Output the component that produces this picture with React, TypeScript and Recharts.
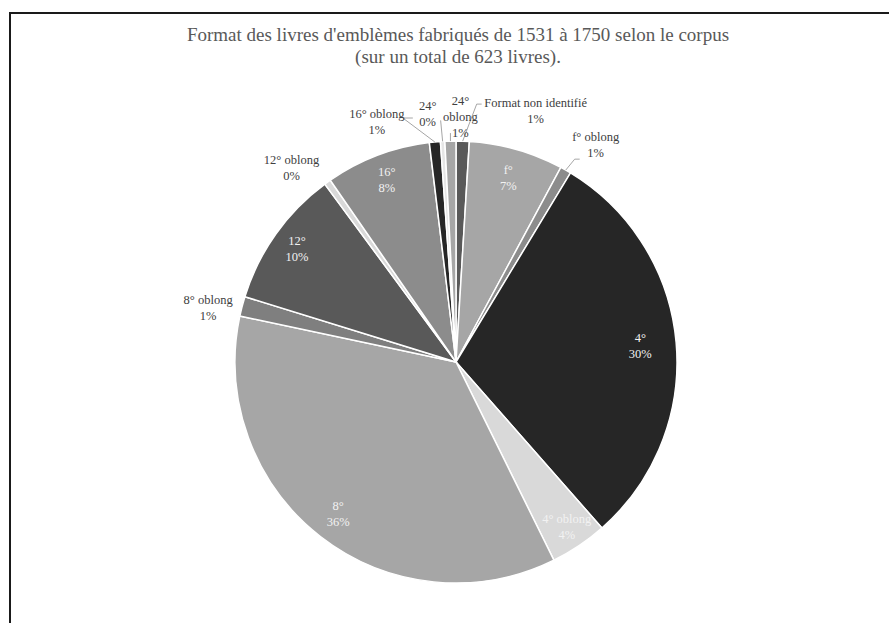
import { Cell, Pie, PieChart } from "recharts";

// Formats des livres d'emblèmes (623 livres), dans l'ordre horaire depuis midi
const formats = [
  "Format non identifié",
  "f°",
  "f° oblong",
  "4°",
  "4° oblong",
  "8°",
  "8° oblong",
  "12°",
  "12° oblong",
  "16°",
  "16° oblong",
  "24°",
  "24° oblong",
];
const counts = [6, 43, 5, 186, 26, 222, 9, 63, 3, 48, 5, 2, 5];
const fills = [
  "#595959", "#a6a6a6", "#8c8c8c", "#262626", "#d9d9d9", "#a6a6a6", "#7f7f7f",
  "#595959", "#d9d9d9", "#8c8c8c", "#262626", "#e6e6e6", "#a6a6a6",
];

type LabelStyle = {
  out?: boolean;
  r?: number;
  dx?: number;
  dy?: number;
  lines?: string[];
  lead?: number[][];
};

// label placement (styling only)
const labelStyles: LabelStyle[] = [
  { out: true, dx: 73, dy: -30, lead: [[-54, -7], [-59, -7]] },
  { r: 191 },
  { out: true, dx: 30, dy: -25, lead: [[-16, 14], [-21, 14]] },
  { r: 185 },
  { r: 199 },
  { r: 192 },
  { out: true, dx: -34, dy: 2 },
  { r: 195 },
  { out: true, dx: -36, dy: -14 },
  { r: 195 },
  { out: true, dx: -58, dy: -20, lead: [[36, -4], [26, -4]] },
  { out: true, dx: -15, dy: -27, lead: [[13, 6]] },
  { out: true, dx: 10, dy: -24, lines: ["24°", "oblong"], lead: [[-10, 16]] },
];

const data = formats.map((name, i) => ({ name, value: counts[i] }));

const RAD = Math.PI / 180;
const SERIF = "'Liberation Serif', 'Times New Roman', serif";

function renderLabel(props: any) {
  const { cx, cy, midAngle, outerRadius, percent, index, name } = props;
  const st = labelStyles[index];
  const pct = `${Math.round(percent * 100)}%`;
  const lines = [...(st.lines ?? [name]), pct];
  const lh = 16;
  const ox = cx + outerRadius * Math.cos(-midAngle * RAD);
  const oy = cy + outerRadius * Math.sin(-midAngle * RAD);
  let x: number;
  let y: number;
  if (st.out) {
    x = ox + (st.dx ?? 0);
    y = oy + (st.dy ?? 0);
  } else {
    const r = st.r ?? outerRadius * 0.85;
    x = cx + r * Math.cos(-midAngle * RAD);
    y = cy + r * Math.sin(-midAngle * RAD);
  }
  const y0 = y - ((lines.length - 1) * lh) / 2;
  return (
    <g key={`lbl-${index}`}>
      {st.lead && (
        <polyline
          points={[...st.lead.map(([a, b]) => `${x + a},${y + b}`), `${ox},${oy}`].join(" ")}
          fill="none"
          stroke="#a6a6a6"
          strokeWidth={1}
        />
      )}
      <text
        x={x}
        y={y0}
        textAnchor="middle"
        dominantBaseline="central"
        stroke="none"
        style={{ fontFamily: SERIF, fontSize: 12.5, fontWeight: 400 }}
        fill={st.out ? "#404040" : "#f2f2f2"}
      >
        {lines.map((t, k) => (
          <tspan key={k} x={x} dy={k === 0 ? 0 : lh}>
            {t}
          </tspan>
        ))}
      </text>
    </g>
  );
}

export default function App() {
  return (
    <div
      style={{
        position: "absolute",
        left: 0,
        top: 0,
        width: 889,
        height: 623,
        overflow: "hidden",
        background: "#fff",
      }}
    >
      <div
        style={{
          position: "absolute",
          left: 9,
          top: 12,
          width: 1000,
          height: 800,
          borderLeft: "2px solid #1a1a1a",
          borderTop: "2px solid #1a1a1a",
        }}
      />
      <div
        style={{
          position: "absolute",
          left: 0,
          top: 24,
          width: 916,
          textAlign: "center",
          fontFamily: SERIF,
          fontSize: 19,
          lineHeight: "22px",
          color: "#595959",
        }}
      >
        Format des livres d'emblèmes fabriqués de 1531 à 1750 selon le corpus
        <br />
        (sur un total de 623 livres).
      </div>
      <div style={{ position: "absolute", left: 0, top: 0 }}>
        <PieChart width={889} height={623} margin={{ top: 0, right: 0, bottom: 0, left: 0 }}>
          <Pie
            data={data}
            dataKey="value"
            nameKey="name"
            cx={456}
            cy={362}
            outerRadius={221}
            startAngle={90}
            endAngle={-270}
            stroke="#ffffff"
            strokeWidth={1.5}
            label={renderLabel}
            labelLine={false}
            isAnimationActive={false}
          >
            {data.map((d, i) => (
              <Cell key={d.name} fill={fills[i]} />
            ))}
          </Pie>
        </PieChart>
      </div>
    </div>
  );
}
